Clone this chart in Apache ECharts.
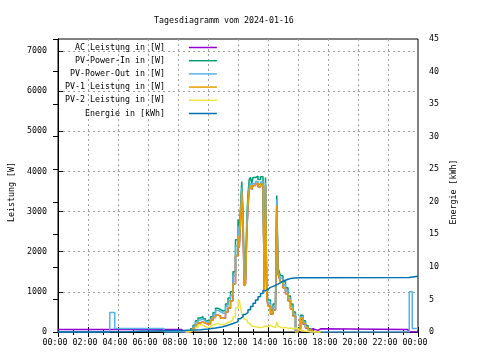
<!DOCTYPE html>
<html>
<head>
<meta charset="utf-8">
<script src="https://cdn.jsdelivr.net/npm/echarts@6/dist/echarts.min.js"></script>
<style>html,body{margin:0;padding:0;background:#fff}#c{width:480px;height:360px}</style>
</head>
<body>
<div id="c"></div>
<script>
// ---- data ----
const titleText = "Tagesdiagramm vom 2024-01-16";
const seriesNames = ["AC Leistung in [W]", "PV-Power-In in [W]", "PV-Power-Out in [W]", "PV-1 Leistung in [W]", "PV-2 Leistung in [W]", "Energie in [kWh]"];
const xTickHours = [0, 2, 4, 6, 8, 10, 12, 14, 16, 18, 20, 22, 24];

const dayTimes = ["08:30","08:40","08:50","09:00","09:10","09:20","09:30","09:40","09:50","10:00",
  "10:10","10:20","10:30","10:40","10:50","11:00","11:10","11:20","11:30","11:40",
  "11:50","12:00","12:05","12:10","12:15","12:20","12:25","12:30","12:35","12:40",
  "12:45","12:50","12:55","13:00","13:10","13:20","13:30","13:40","13:45","13:50",
  "13:55","14:00","14:10","14:20","14:30","14:35","14:40","14:45","14:50","15:00",
  "15:10","15:20","15:30","15:40","15:50","16:00","16:10","16:20","16:30","16:40",
  "16:50","17:00","17:10","17:20","17:30"];
const pvInDay = [0,30,80,170,280,350,380,330,280,290,
  380,480,590,560,520,540,700,850,1000,1500,
  2300,2800,2500,3100,3750,3000,1300,1400,2800,3450,
  3800,3850,3700,3850,3880,3800,3870,3900,1150,3850,
  1000,800,550,700,750,3400,1600,1500,1400,1250,
  1100,900,700,500,0,100,420,280,160,80,
  20,0,0,0,0];
const pvOutDay = [0,20,60,140,240,300,320,280,240,250,
  330,430,540,510,470,480,640,780,920,1400,
  2150,2650,2350,2950,3600,2850,1250,1320,2650,3300,
  3650,3700,3600,3700,3750,3680,3740,3780,1100,3720,
  920,720,500,630,680,3300,1520,1420,1330,1180,
  1030,840,640,450,0,60,380,240,120,50,
  0,0,0,0,0];
const pv1Day = [0,0,30,100,180,230,250,220,200,200,
  290,360,420,400,340,350,500,600,780,1200,
  1900,2400,2100,2700,3500,2600,1150,1200,2400,3150,
  3550,3650,3550,3650,3700,3620,3690,3720,1040,3650,
  850,650,450,550,600,3150,1450,1350,1250,1100,
  950,780,580,400,0,50,350,220,110,50,
  20,0,0,0,0];
const pv2Day = [0,20,50,60,120,180,170,130,110,100,
  170,200,210,190,180,200,240,260,300,380,
  600,750,800,600,450,380,330,300,260,230,
  200,170,150,130,120,110,120,160,150,120,
  130,170,130,110,150,250,150,120,100,120,
  90,100,80,100,80,40,30,20,10,0,
  0,0,0,0,0];
const acDay = [0,0,30,100,180,230,250,220,200,200,
  290,360,420,400,340,350,500,600,780,1200,
  1900,2400,2100,2700,3500,2600,1150,1200,2400,3150,
  3550,3650,3550,3650,3700,3620,3690,3720,1040,3650,
  850,650,450,550,600,3150,1450,1350,1250,1100,
  950,780,580,400,0,25,320,200,100,60,
  80,60,40,80,60];
const acPreTimes = ["00:00","08:16"];
const acPre = [60, 0];
const acPostTimes = ["23:21","24:00"];
const acPost = [0, 0];
const pvOutPreTimes = ["00:00","03:27","03:47","07:04"];
const pvOutPre = [0, 485, 85, 0];
const pvOutPostTimes = ["23:25","23:37","24:00"];
const pvOutPost = [1000, 85, 85];
const energyTimes = ["00:00","04:33","05:27","08:30","09:00","09:30","10:00","10:30","11:00","11:20",
  "11:40","12:00","12:10","12:20","12:30","12:40","12:50","13:00","13:10","13:20",
  "13:30","13:40","13:50","14:00","14:10","14:20","14:30","14:40","14:50","15:00",
  "15:10","15:20","15:30","15:45","16:10","23:24","24:00"];
const energyValues = [0,0.1,0.26,0.3,0.35,0.45,0.6,0.8,1.05,1.3,
  1.6,2.05,2.35,2.7,3.0,3.4,3.9,4.4,4.9,5.4,
  5.9,6.35,6.6,6.85,7.0,7.15,7.35,7.6,7.8,7.95,
  8.1,8.2,8.28,8.35,8.38,8.57,8.57];

// ---- helpers ----
const toH = t => { const [h, m] = t.split(":").map(Number); return h + m / 60; };
const pairs = (times, vals) => times.map((t, i) => [toH(t), vals[i]]);
const FONT = "DejaVu Sans Mono";
const FS = 8.3;
const colors = ["#9400D3", "#009E73", "#56B4E9", "#E69F00", "#F0E442", "#0072B2"];

const seriesData = [
  pairs(acPreTimes, acPre).concat(pairs(dayTimes, acDay), pairs(acPostTimes, acPost)),
  pairs(dayTimes, pvInDay),
  pairs(pvOutPreTimes, pvOutPre).concat(pairs(dayTimes, pvOutDay), pairs(pvOutPostTimes, pvOutPost)),
  pairs(dayTimes, pv1Day),
  pairs(dayTimes, pv2Day),
  pairs(energyTimes, energyValues)
];

const chart = echarts.init(document.getElementById('c'), null, {renderer: 'canvas'});
const xCommon = {
  type: 'value', min: 0, max: 24, interval: 2,
  axisLine: {show: true, lineStyle: {color: '#000', width: 1}},
  axisTick: {show: true, inside: true, length: 5, lineStyle: {color: '#000'}},
  minorTick: {show: true, splitNumber: 2, length: 3, lineStyle: {color: '#000'}},
};
chart.setOption({
  animation: false,
  backgroundColor: '#fff',
  title: {text: titleText, left: 149, top: 12, textStyle: {fontFamily: FONT, fontSize: FS, fontWeight: 'normal', color: '#000'}},
  grid: {left: 58, right: 62, top: 39, bottom: 28, show: true, borderColor: '#000', borderWidth: 1,
         backgroundColor: 'transparent', outerBoundsMode: 'none', containLabel: false},
  legend: {
    data: seriesNames, orient: 'vertical', left: 65, top: 43.5, align: 'right', padding: 0, itemGap: 5.2,
    itemWidth: 28, itemHeight: 1.5, icon: 'rect', selectedMode: false,
    formatter: n => '{a|' + n + '}',
    textStyle: {fontFamily: FONT, fontSize: FS, color: '#000',
      rich: {a: {width: 120, align: 'right', padding: [0, 19, 0, 0], fontFamily: FONT, fontSize: FS, color: '#000'}}}
  },
  xAxis: [
    Object.assign({}, xCommon, {
      position: 'bottom',
      splitLine: {show: true, showMinLine: false, showMaxLine: false, lineStyle: {color: '#a0a0a0', type: [2, 3], width: 1}},
      axisLabel: {show: true, color: '#000', fontFamily: FONT, fontSize: FS, margin: 7, padding: [0, 6, 0, 0],
        formatter: v => xTickHours.includes(v) ? String(v % 24).padStart(2, '0') + ':00' : ''}
    }),
    Object.assign({}, xCommon, {position: 'top', splitLine: {show: false}, axisLabel: {show: false}})
  ],
  yAxis: [
    {type: 'value', min: 0, max: 7300, interval: 1000, position: 'left',
     name: 'Leistung [W]', nameLocation: 'middle', nameGap: 41, nameRotate: 90,
     nameTextStyle: {fontFamily: FONT, fontSize: FS, color: '#000', padding: [0, 13, 0, 0]},
     axisLine: {show: true, lineStyle: {color: '#000'}},
     axisTick: {show: true, inside: true, length: 5, lineStyle: {color: '#000'}},
     axisLabel: {color: '#000', fontFamily: FONT, fontSize: FS, margin: 11, showMaxLabel: false, formatter: v => String(v)},
     splitLine: {show: true, showMinLine: false, showMaxLine: false, lineStyle: {color: '#a0a0a0', type: [2, 3], width: 1}}},
    {type: 'value', min: 0, max: 45, interval: 5, position: 'right',
     name: 'Energie [kWh]', nameLocation: 'middle', nameGap: 31, nameRotate: 90,
     nameTextStyle: {fontFamily: FONT, fontSize: FS, color: '#000', padding: [0, 13, 0, 0]},
     axisLine: {show: true, lineStyle: {color: '#000'}},
     axisTick: {show: true, inside: true, length: 5, lineStyle: {color: '#000'}},
     axisLabel: {color: '#000', fontFamily: FONT, fontSize: FS, margin: 11, formatter: v => String(v)},
     splitLine: {show: false}}
  ],
  series: seriesNames.map((name, i) => ({
    name: name, type: 'line', step: 'end', showSymbol: false, symbol: 'none',
    xAxisIndex: 0, yAxisIndex: i === 5 ? 1 : 0,
    color: colors[i], lineStyle: {color: colors[i], width: 1.5},
    data: seriesData[i]
  }))
});
</script>
</body>
</html>
